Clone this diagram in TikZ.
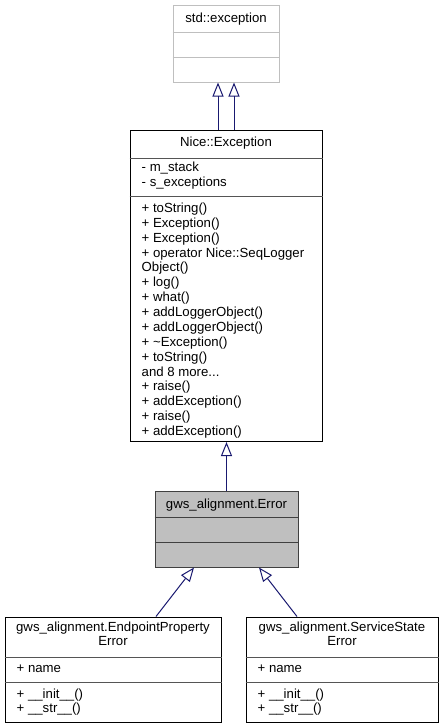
\documentclass[tikz,border=0pt]{standalone}
\usepackage{fontspec}
\setmainfont{Liberation Sans}
\usetikzlibrary{arrows.meta}
\definecolor{edgeblue}{HTML}{191970}
\definecolor{errfill}{HTML}{BFBFBF}
\definecolor{stdgray}{HTML}{BFBFBF}
\definecolor{divgray}{HTML}{555555}
\definecolor{errline}{HTML}{404040}
\newcommand{\threedots}{...}
\begin{document}
\begin{tikzpicture}[x=1pt,y=-1pt,
  txt/.style={inner sep=0pt, font=\fontsize{13.2}{14}\selectfont},
  umlbox/.style={draw=black, line width=1pt, fill=white, inner sep=0pt},
  divider/.style={draw=divgray, line width=1pt},
  inherit/.style={draw=edgeblue, line width=1pt, -{Triangle[open, length=14pt, width=11pt]}}]

\fill[white] (0,0) rectangle (443,728);
\useasboundingbox (0,0) rectangle (443,728);

% std::exception
\node[umlbox, draw=stdgray, minimum width=106pt, minimum height=76.5pt] (std) at (226,43.75) {};
\draw[divider, draw=stdgray] (std.west |- 0,32) -- (std.east |- 0,32);
\draw[divider, draw=stdgray] (std.west |- 0,57) -- (std.east |- 0,57);
\node[txt, anchor=base] (stdname) at (226,22) {std::exception};

% Nice::Exception
\node[umlbox, minimum width=192pt, minimum height=311.5pt] (nice) at (226,285.75) {};
\draw[divider] (nice.west |- 0,158) -- (nice.east |- 0,158);
\draw[divider] (nice.west |- 0,196) -- (nice.east |- 0,196);
\node[txt, anchor=base] (nicename) at (226,146.7) {Nice::Exception};
\node[txt, anchor=base west] (na1) at (141.5,171.5) {- m\_stack};
\node[txt, anchor=base west] (na2) at (141.5,186) {- s\_exceptions};
\foreach \t [count=\i from 0] in {{+ toString()},{+ Exception()},{+ Exception()},{+ operator Nice::SeqLogger},{Object()},{+ log()},{+ what()},{+ addLoggerObject()},{+ addLoggerObject()},{+ \textasciitilde Exception()},{+ toString()},{and 8 more\threedots},{+ raise()},{+ addException()},{+ raise()},{+ addException()}}
  \node[txt, anchor=base west] (nm\i) at (141.5,212.5+\i*14.87) {\t};

% gws_alignment.Error
\node[umlbox, draw=errline, fill=errfill, minimum width=143pt, minimum height=76pt] (err) at (226.5,529) {};
\draw[divider, draw=errline] (err.west |- 0,517) -- (err.east |- 0,517);
\draw[divider, draw=errline] (err.west |- 0,542) -- (err.east |- 0,542);
\node[txt, anchor=base] (errname) at (226.5,508) {gws\_alignment.Error};

% EndpointPropertyError
\node[umlbox, minimum width=216pt, minimum height=105pt] (epe) at (113,669.5) {};
\draw[divider] (epe.west |- 0,657) -- (epe.east |- 0,657);
\draw[divider] (epe.west |- 0,682) -- (epe.east |- 0,682);
\node[txt, anchor=base] (epename1) at (113,631) {gws\_alignment.EndpointProperty};
\node[txt, anchor=base] (epename2) at (113,645) {Error};
\node[txt, anchor=base west] (epea) at (16.5,672.5) {+ name};
\node[txt, anchor=base west] (epem1) at (16.5,698.5) {+ \_\_init\_\_()};
\node[txt, anchor=base west] (epem2) at (16.5,712) {+ \_\_str\_\_()};

% ServiceStateError
\node[umlbox, minimum width=192pt, minimum height=105pt] (sse) at (342,669.5) {};
\draw[divider] (sse.west |- 0,657) -- (sse.east |- 0,657);
\draw[divider] (sse.west |- 0,682) -- (sse.east |- 0,682);
\node[txt, anchor=base] (ssename1) at (342,631) {gws\_alignment.ServiceState};
\node[txt, anchor=base] (ssename2) at (342,645) {Error};
\node[txt, anchor=base west] (ssea) at (257.5,672.5) {+ name};
\node[txt, anchor=base west] (ssem1) at (257.5,698.5) {+ \_\_init\_\_()};
\node[txt, anchor=base west] (ssem2) at (257.5,712) {+ \_\_str\_\_()};

% inheritance arrows
\draw[inherit] (nice.north -| 218,0) -- (std.south -| 218,0);
\draw[inherit] (nice.north -| 234,0) -- (std.south -| 234,0);
\draw[inherit] (err.north) -- (err.north |- nice.south);
\draw[inherit] (epe.north -| 156,0) -- (err.south -| 194,0);
\draw[inherit] (sse.north -| 297,0) -- (err.south -| 259,0);
\end{tikzpicture}
\end{document}
